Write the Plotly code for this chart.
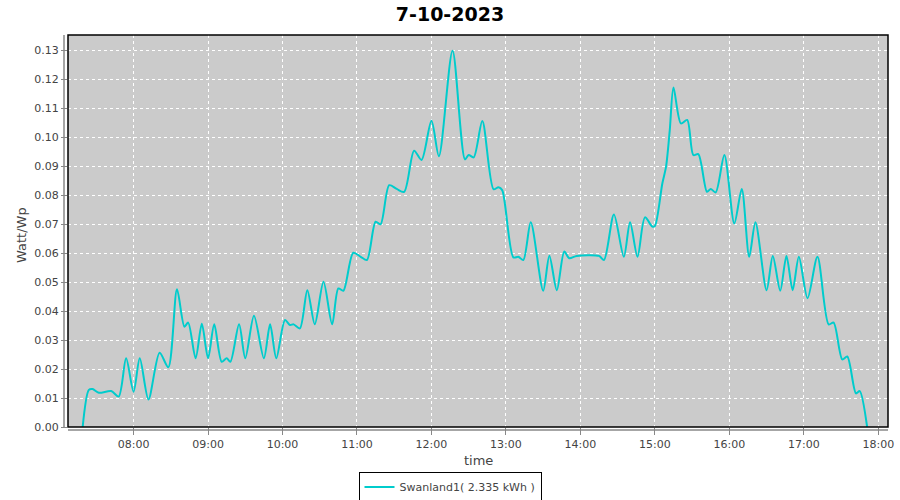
import plotly.graph_objects as go

DATE = "2023-10-07"
times = ["07:19", "07:24", "07:27", "07:32", "07:42", "07:48", "07:54", "08:00", "08:05", "08:12",
         "08:21", "08:28", "08:35", "08:41", "08:44", "08:50", "08:55", "09:00", "09:05", "09:11",
         "09:15", "09:18", "09:25", "09:30", "09:37", "09:45", "09:50", "09:55", "10:02", "10:06",
         "10:09", "10:14", "10:20", "10:26", "10:33", "10:40", "10:45", "10:49", "10:57", "11:03",
         "11:08", "11:15", "11:19", "11:26", "11:32", "11:38", "11:46", "11:52", "12:00", "12:06",
         "12:17", "12:27", "12:30", "12:34", "12:41", "12:50", "12:54", "12:57", "13:06", "13:10",
         "13:14", "13:20", "13:30", "13:35", "13:41", "13:47", "13:51", "13:57", "14:15", "14:19",
         "14:27", "14:35", "14:40", "14:46", "14:52", "14:58", "15:00", "15:06", "15:09", "15:12",
         "15:15", "15:21", "15:26", "15:31", "15:35", "15:42", "15:45", "15:49", "15:56", "16:04",
         "16:10", "16:16", "16:21", "16:30", "16:35", "16:41", "16:46", "16:51", "16:56", "17:03",
         "17:11", "17:20", "17:24", "17:31", "17:35", "17:42", "17:45", "17:51"]
values = [0.0, 0.0128, 0.0131, 0.0118, 0.0124, 0.0105, 0.0237, 0.0122, 0.0237, 0.0095,
          0.0256, 0.0206, 0.0475, 0.0346, 0.0360, 0.0237, 0.0356, 0.0237, 0.0354, 0.0225,
          0.0237, 0.0225, 0.0354, 0.0237, 0.0384, 0.0237, 0.0354, 0.0237, 0.0369, 0.0352,
          0.0354, 0.0340, 0.0472, 0.0354, 0.0501, 0.0354, 0.0478, 0.0470, 0.0601, 0.0587,
          0.0576, 0.0708, 0.0699, 0.0834, 0.0821, 0.0811, 0.0953, 0.0921, 0.1056, 0.0934,
          0.1298, 0.0923, 0.0938, 0.0930, 0.1055, 0.0820, 0.0827, 0.0817, 0.0585, 0.0587,
          0.0576, 0.0706, 0.0470, 0.0591, 0.0472, 0.0605, 0.0582, 0.0590, 0.0590, 0.0576,
          0.0733, 0.0587, 0.0706, 0.0587, 0.0723, 0.0691, 0.0693, 0.0840, 0.0898, 0.1024,
          0.1171, 0.1047, 0.1059, 0.0938, 0.0941, 0.0811, 0.0821, 0.0809, 0.0938, 0.0702,
          0.0821, 0.0587, 0.0706, 0.0472, 0.0590, 0.0470, 0.0590, 0.0472, 0.0587, 0.0444,
          0.0587, 0.0354, 0.0360, 0.0233, 0.0243, 0.0116, 0.0124, 0.0]
series_name = "Swanland1( 2.335 kWh )"
title_text = "7-10-2023"
x_title = "time"
y_title = "Watt/Wp"

x = [f"{DATE} {t}:00" for t in times]

W, H = 900, 500
PL, PR, PT, PB = 68, 888, 35, 427  # plot area in pixels
xd = [PL / W, PR / W]
yd = [1 - PB / H, 1 - PT / H]

fig = go.Figure()
fig.add_trace(go.Scatter(
    x=x, y=values, mode="lines", name=series_name,
    line=dict(color="#00cccc", width=2, shape="spline", smoothing=0.8),
))

gray = "#444444"
fig.update_layout(
    width=W, height=H,
    margin=dict(l=0, r=0, t=0, b=0, autoexpand=False),
    paper_bgcolor="white", plot_bgcolor="#cbcbcb",
    font=dict(family="DejaVu Sans", color=gray, size=11),
    title=dict(text="<b>" + title_text + "</b>", x=0.5, xanchor="center",
               y=1 - 14 / H, yanchor="middle",
               font=dict(family="DejaVu Sans", size=19, color="black")),
    showlegend=True,
    legend=dict(orientation="h", x=0.5, xanchor="center", y=1 - 487 / H, yanchor="middle",
                bordercolor="black", borderwidth=1, bgcolor="white",
                font=dict(family="DejaVu Sans", size=11, color=gray),
                itemwidth=30, valign="middle"),
    xaxis=dict(
        domain=xd, type="date",
        range=[f"{DATE} 07:07:11", f"{DATE} 18:07:49"],
        dtick=3600000, tickformat="%H:%M",
        showgrid=True, gridcolor="white", griddash="dot", gridwidth=1,
        ticks="outside", ticklen=7, tickcolor="#888888", tickwidth=1,
        showline=False, zeroline=False, automargin=False,
        tickfont=dict(size=11, color=gray),
    ),
    yaxis=dict(
        domain=yd,
        range=[0, 0.1352], dtick=0.01, tickformat=".2f",
        showgrid=True, gridcolor="white", griddash="dot", gridwidth=1,
        ticks="outside", ticklen=6, tickcolor="#888888", tickwidth=1,
        showline=False, zeroline=False, automargin=False,
        tickfont=dict(size=11, color=gray),
    ),
    annotations=[
        dict(text=x_title, xref="paper", yref="paper", x=(PL + PR) / 2 / W, y=1 - 460 / H,
             xanchor="center", yanchor="middle", showarrow=False,
             font=dict(size=13, color=gray, family="DejaVu Sans")),
        dict(text=y_title, xref="paper", yref="paper", x=21 / W, y=1 - 235 / H,
             xanchor="center", yanchor="middle", showarrow=False, textangle=-90,
             font=dict(size=13, color=gray, family="DejaVu Sans")),
    ],
)
# axis lines (offset from plot area, JFreeChart style)
fig.add_shape(type="line", xref="paper", yref="paper", x0=64 / W, x1=64 / W, y0=yd[0], y1=yd[1],
              line=dict(color="#888888", width=1.5))
fig.add_shape(type="line", xref="paper", yref="paper", x0=xd[0], x1=xd[1], y0=1 - 430 / H, y1=1 - 430 / H,
              line=dict(color="#888888", width=1.5))
# plot outline
fig.add_shape(type="rect", xref="paper", yref="paper", x0=xd[0], y0=yd[0], x1=xd[1], y1=yd[1],
              line=dict(color="black", width=1.5), layer="above")

fig.write_html("out.html", config={"displayModeBar": False},
               post_script="document.body.style.margin='0';document.body.style.overflow='hidden';")
